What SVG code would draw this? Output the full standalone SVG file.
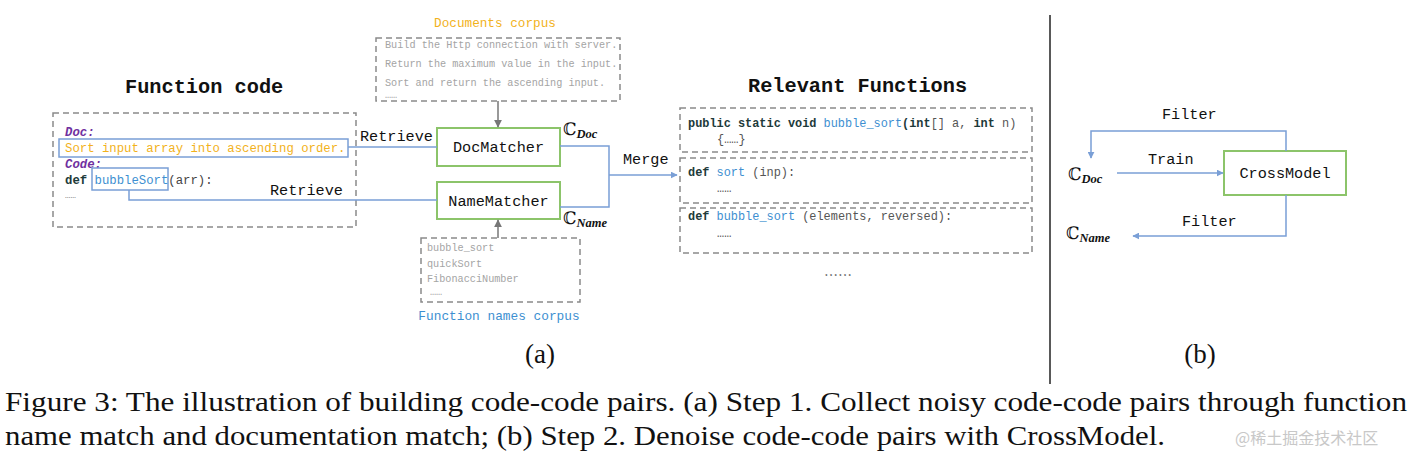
<svg xmlns="http://www.w3.org/2000/svg" width="1413" height="462" viewBox="0 0 1413 462">
<defs>
<marker id="ab" viewBox="0 0 10 10" refX="9" refY="5" markerWidth="7" markerHeight="7" orient="auto" markerUnits="userSpaceOnUse"><path d="M0,0 L10,5 L0,10 z" fill="#7a9fd6"/></marker>
<marker id="ag" viewBox="0 0 10 10" refX="9" refY="5" markerWidth="8" markerHeight="8" orient="auto" markerUnits="userSpaceOnUse"><path d="M0,0 L10,5 L0,10 z" fill="#777"/></marker>
<style>
.mono{font-family:"Liberation Mono","DejaVu Sans Mono",monospace}
.title{font-family:"Liberation Mono","DejaVu Sans Mono",monospace;font-size:20.3px;font-weight:bold;fill:#111}
.dash{fill:none;stroke:#8a8a8a;stroke-width:1.5;stroke-dasharray:6,4}
.blue{fill:none;stroke:#7a9fd6;stroke-width:1.5}
.gray{fill:none;stroke:#777;stroke-width:1.5}
.node{fill:#fff;stroke:#8cc46a;stroke-width:2}
.ntext{font-family:"Liberation Mono","DejaVu Sans Mono",monospace;font-size:15.2px;fill:#111;text-anchor:middle}
.lbl{font-family:"Liberation Mono","DejaVu Sans Mono",monospace;font-size:15.2px;fill:#111}
.code{font-family:"Liberation Mono","DejaVu Sans Mono",monospace;font-size:11.9px;fill:#555}
.kw{fill:#1d3a3a;font-weight:bold}
.fn{fill:#3d8fd1}
.corp{font-family:"Liberation Mono","DejaVu Sans Mono",monospace;font-size:10.2px;fill:#a4a4a4}
.cs{font-family:"DejaVu Serif",serif;font-size:17px;fill:#111}
.sub{font-family:"Liberation Serif",serif;font-style:italic;font-weight:bold;font-size:12.5px}
.cap{font-family:"Liberation Serif","Times New Roman",serif;font-size:27px;fill:#111}
</style>
</defs>

<g id="function-code">
<text class="title" x="125" y="93">Function code</text>
<rect class="dash" x="53" y="113" width="303" height="114"/>
<text class="mono" x="65" y="136" font-size="12.3" font-weight="bold" font-style="italic" fill="#7030a0">Doc:</text>
<rect x="59" y="139" width="289" height="18" fill="none" stroke="#7a9fd6" stroke-width="1.5"/>
<text class="mono" x="65" y="152" font-size="12.3" fill="#f2b21b">Sort input array into ascending order.</text>
<text class="mono" x="65" y="168" font-size="12.3" font-weight="bold" font-style="italic" fill="#7030a0">Code:</text>
<rect x="92" y="168" width="76" height="22" fill="none" stroke="#7a9fd6" stroke-width="1.5"/>
<text class="mono" x="65" y="184" font-size="12.3" fill="#444"><tspan font-weight="bold" fill="#1d3a3a">def</tspan> <tspan fill="#3d8fd1">bubbleSort</tspan>(arr):</text>
<text class="mono" x="65" y="198" font-size="9" fill="#888">……</text>
</g>

<g id="documents-corpus">
<text class="mono" x="495" y="27" font-size="12.7" fill="#f2b21b" text-anchor="middle">Documents corpus</text>
<rect class="dash" x="376" y="38" width="244" height="63"/>
<text class="corp" x="385" y="48">Build the Http connection with server.</text>
<text class="corp" x="385" y="67">Return the maximum value in the input.</text>
<text class="corp" x="385" y="86">Sort and return the ascending input.</text>
<text class="corp" x="385" y="98" font-size="7">……</text>
</g>

<g id="names-corpus">
<rect class="dash" x="421" y="238" width="159" height="64"/>
<text class="corp" x="427" y="251">bubble_sort</text>
<text class="corp" x="427" y="267">quickSort</text>
<text class="corp" x="427" y="282">FibonacciNumber</text>
<text class="corp" x="430" y="295" font-size="7">……</text>
<text class="mono" x="499" y="320" font-size="12.8" fill="#3d8fd1" text-anchor="middle">Function names corpus</text>
</g>

<g id="docmatcher">
<rect class="node" x="437" y="128" width="123" height="38"/>
<text class="ntext" x="498.5" y="152">DocMatcher</text>
</g>

<g id="namematcher">
<rect class="node" x="437" y="182" width="123" height="37"/>
<text class="ntext" x="498.5" y="206">NameMatcher</text>
</g>

<g id="relevant-functions">
<text class="title" x="748" y="92">Relevant Functions</text>
<rect class="dash" x="680" y="108" width="352" height="44"/>
<text class="code" x="688" y="127"><tspan class="kw">public static void</tspan> <tspan class="fn">bubble_sort</tspan><tspan class="kw">(int</tspan>[] a, <tspan class="kw">int</tspan> n)</text>
<text class="code" x="717" y="143" font-size="9">{……}</text>
<rect class="dash" x="680" y="158" width="352" height="45"/>
<text class="code" x="688" y="176"><tspan class="kw">def</tspan> <tspan class="fn">sort</tspan> (inp):</text>
<text class="code" x="717" y="192" font-size="7">……</text>
<rect class="dash" x="680" y="208" width="352" height="45"/>
<text class="code" x="688" y="220"><tspan class="kw">def</tspan> <tspan class="fn">bubble_sort</tspan> (elements, reversed):</text>
<text class="code" x="717" y="237" font-size="7">……</text>
<text x="838" y="280" font-family="'Noto Sans CJK SC',sans-serif" font-size="14" fill="#555" text-anchor="middle">……</text>
</g>

<g id="crossmodel">
<rect class="node" x="1224" y="151" width="122" height="44"/>
<text class="ntext" x="1285" y="178">CrossModel</text>
</g>

<g id="sets">
<text class="cs" x="563" y="135">ℂ<tspan class="sub" dy="3">Doc</tspan></text>
<text class="cs" x="563" y="224">ℂ<tspan class="sub" dy="3">Name</tspan></text>
<text class="cs" x="1068" y="180">ℂ<tspan class="sub" dy="3">Doc</tspan></text>
<text class="cs" x="1066" y="239">ℂ<tspan class="sub" dy="3">Name</tspan></text>
</g>

<g id="connectors">
<polyline class="blue" points="348,147 437,147"/>
<polyline class="blue" points="129,190 129,200 437,200"/>
<polyline class="blue" points="560,146 609,146 609,207 560,207"/>
<line class="blue" x1="609" y1="175" x2="677" y2="175" marker-end="url(#ab)"/>
<line class="gray" x1="498" y1="101" x2="498" y2="127" marker-end="url(#ag)"/>
<line class="gray" x1="498" y1="238" x2="498" y2="220" marker-end="url(#ag)"/>
<polyline class="blue" points="1286,151 1286,131 1091,131 1091,158" marker-end="url(#ab)"/>
<line class="blue" x1="1117" y1="173" x2="1223" y2="173" marker-end="url(#ab)"/>
<polyline class="blue" points="1286,195 1286,236 1133,236" marker-end="url(#ab)"/>
<text class="lbl" x="360" y="141">Retrieve</text>
<text class="lbl" x="270" y="195">Retrieve</text>
<text class="lbl" x="623" y="164">Merge</text>
<text class="lbl" x="1162" y="119">Filter</text>
<text class="lbl" x="1148" y="164">Train</text>
<text class="lbl" x="1182" y="226">Filter</text>
</g>

<line x1="1050" y1="15" x2="1050" y2="384" stroke="#222" stroke-width="1.5"/>

<g id="caption">
<text class="cap" x="540" y="363" text-anchor="middle" font-size="23">(a)</text>
<text class="cap" x="1200" y="363" text-anchor="middle" font-size="23">(b)</text>
<text class="cap" x="5" y="411" textLength="1402" lengthAdjust="spacingAndGlyphs">Figure 3: The illustration of building code-code pairs. (a) Step 1. Collect noisy code-code pairs through function</text>
<text class="cap" x="5" y="445" textLength="1160" lengthAdjust="spacingAndGlyphs">name match and documentation match; (b) Step 2. Denoise code-code pairs with CrossModel.</text>
<text x="1235" y="444" font-family="'Noto Sans CJK SC',sans-serif" font-size="16" fill="#c8c8c8">@稀土掘金技术社区</text>
</g>
</svg>
